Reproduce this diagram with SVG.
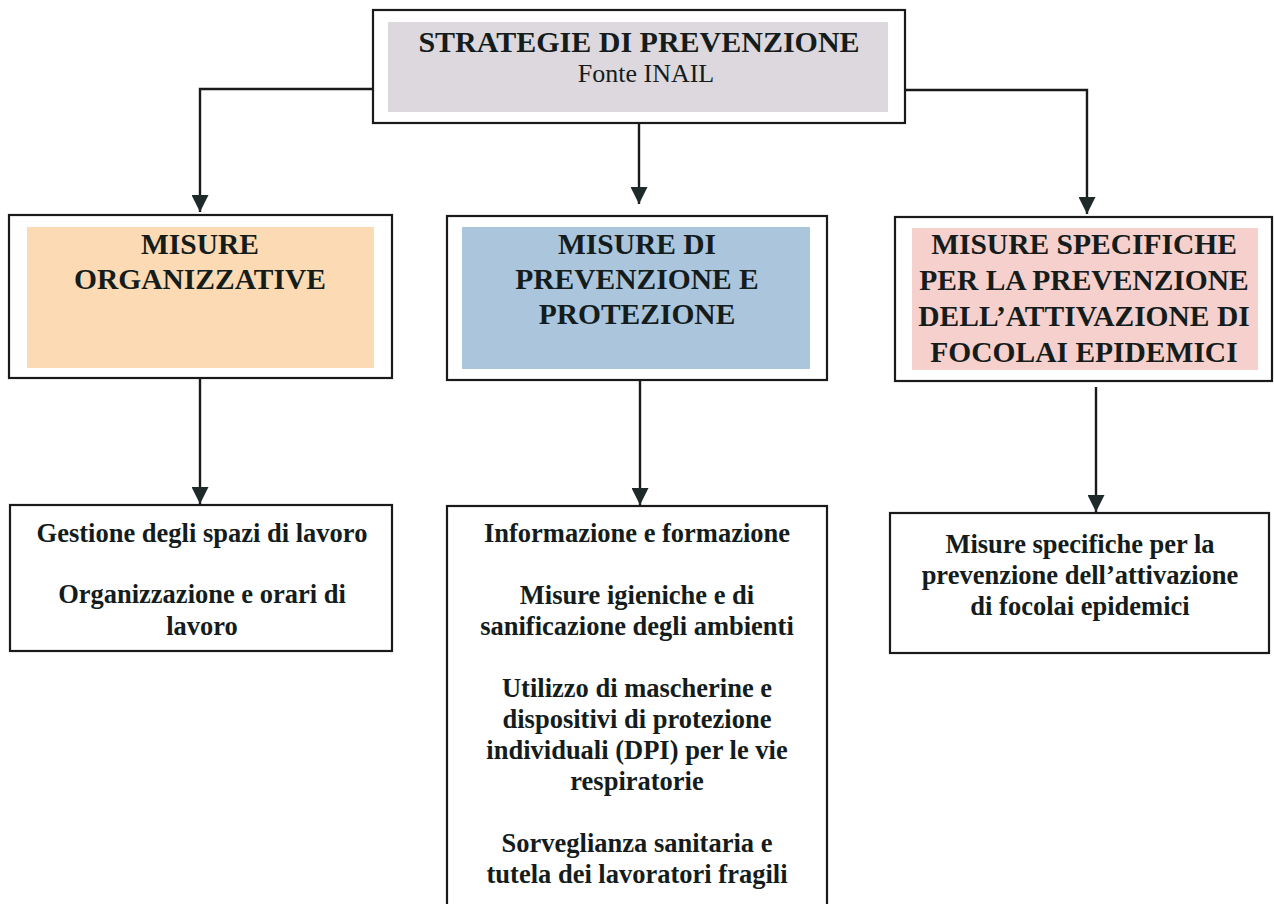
<svg xmlns="http://www.w3.org/2000/svg" width="1274" height="904" viewBox="0 0 1274 904">
  <defs>
    <marker id="arrow" viewBox="0 0 17 17" refX="17" refY="8.5" markerWidth="17" markerHeight="17" markerUnits="userSpaceOnUse" orient="auto">
      <path d="M0,0 L17,8.5 L0,17 z" fill="#1e2a2a"/>
    </marker>
    <style>
      .box { fill: #ffffff; stroke: #1a1a1a; stroke-width: 2.2; }
      .conn { fill: none; stroke: #1a1a1a; stroke-width: 2.4; marker-end: url(#arrow); }
      .t { font-family: "Liberation Serif", "Times New Roman", serif; fill: #141c1c; text-anchor: middle; }
      .head { font-size: 29.5px; font-weight: bold; }
      .title { font-size: 30px; font-weight: bold; }
      .sub { font-size: 26px; font-weight: normal; }
      .item { font-size: 26.5px; font-weight: bold; }
    </style>
  </defs>
  <rect width="1274" height="904" fill="#ffffff"/>

  <g id="connectors">
    <polyline class="conn" points="373,89 200,89 200,212"/>
    <polyline class="conn" points="639,123 639,204"/>
    <polyline class="conn" points="905,90 1087,90 1087,214"/>
    <polyline class="conn" points="200,378 200,504"/>
    <polyline class="conn" points="640,380 640,505"/>
    <polyline class="conn" points="1096,387 1096,512"/>
  </g>

  <g id="strategie">
    <rect class="box" x="373" y="10" width="532" height="113"/>
    <rect x="388" y="22" width="500" height="90" fill="#dcd8de"/>
    <text class="t title" x="639" y="52">STRATEGIE DI PREVENZIONE</text>
    <text class="t sub" x="646" y="82">Fonte INAIL</text>
  </g>

  <g id="misure-organizzative">
    <rect class="box" x="9" y="215" width="383" height="163"/>
    <rect x="27" y="227" width="347" height="141" fill="#fbdab4"/>
    <text class="t head" x="200" y="254">MISURE</text>
    <text class="t head" x="200" y="289">ORGANIZZATIVE</text>
  </g>

  <g id="misure-prevenzione">
    <rect class="box" x="447" y="216" width="380" height="164"/>
    <rect x="462" y="227" width="348" height="142" fill="#aac5dc"/>
    <text class="t head" x="637" y="254">MISURE DI</text>
    <text class="t head" x="637" y="289">PREVENZIONE E</text>
    <text class="t head" x="637" y="324">PROTEZIONE</text>
  </g>

  <g id="misure-specifiche">
    <rect class="box" x="895" y="217" width="377" height="164"/>
    <rect x="912" y="228" width="346" height="142" fill="#f5d0cc"/>
    <text class="t head" x="1084" y="254">MISURE SPECIFICHE</text>
    <text class="t head" x="1084" y="290">PER LA PREVENZIONE</text>
    <text class="t head" x="1084" y="326">DELL’ATTIVAZIONE DI</text>
    <text class="t head" x="1084" y="362">FOCOLAI EPIDEMICI</text>
  </g>

  <g id="dettaglio-organizzative">
    <rect class="box" x="10" y="505" width="382" height="146"/>
    <text class="t item" x="202" y="542">Gestione degli spazi di lavoro</text>
    <text class="t item" x="202" y="603">Organizzazione e orari di</text>
    <text class="t item" x="202" y="635">lavoro</text>
  </g>

  <g id="dettaglio-prevenzione">
    <rect class="box" x="447" y="506" width="380" height="420"/>
    <text class="t item" x="637" y="542">Informazione e formazione</text>
    <text class="t item" x="637" y="604">Misure igieniche e di</text>
    <text class="t item" x="637" y="635">sanificazione degli ambienti</text>
    <text class="t item" x="637" y="697">Utilizzo di mascherine e</text>
    <text class="t item" x="637" y="728">dispositivi di protezione</text>
    <text class="t item" x="637" y="759">individuali (DPI) per le vie</text>
    <text class="t item" x="637" y="790">respiratorie</text>
    <text class="t item" x="637" y="852">Sorveglianza sanitaria e</text>
    <text class="t item" x="637" y="883">tutela dei lavoratori fragili</text>
  </g>

  <g id="dettaglio-specifiche">
    <rect class="box" x="890" y="513" width="379" height="140"/>
    <text class="t item" x="1080" y="553">Misure specifiche per la</text>
    <text class="t item" x="1080" y="584">prevenzione dell’attivazione</text>
    <text class="t item" x="1080" y="615">di focolai epidemici</text>
  </g>
</svg>
